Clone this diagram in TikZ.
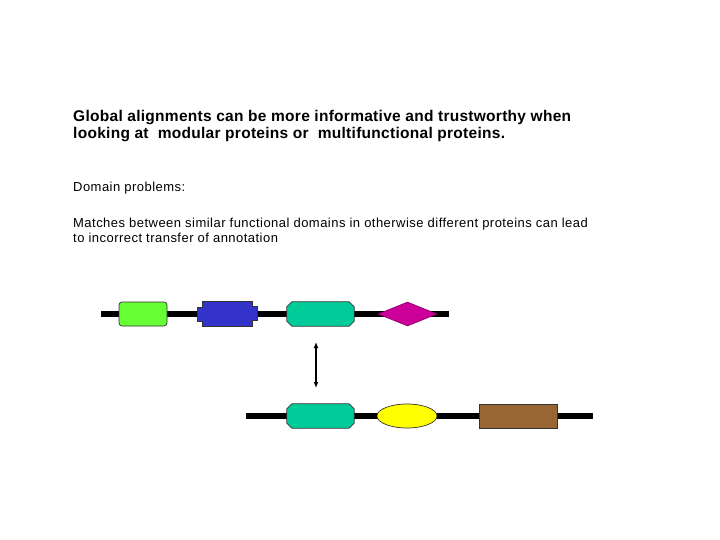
\documentclass[tikz,border=0pt]{standalone}
\usepackage{fontspec}
\setmainfont{Liberation Sans}
\usepackage{xcolor}
\usetikzlibrary{positioning, arrows.meta, shapes.geometric}

\definecolor{domgreen}{HTML}{66FF33}
\definecolor{domblue}{HTML}{3333CC}
\definecolor{domteal}{HTML}{00CC99}
\definecolor{dommagenta}{HTML}{CC0099}
\definecolor{domyellow}{HTML}{FFFF00}
\definecolor{dombrown}{HTML}{996633}

% octagonal domain drawn round an (invisible) node
\newcommand{\octdomain}[2]{%
  \draw[domline, fill=#2]
    ([xshift=5pt]#1.north west) -- ([xshift=-5pt]#1.north east)
    -- ([yshift=-5pt]#1.north east) -- ([yshift=5pt]#1.south east)
    -- ([xshift=-5pt]#1.south east) -- ([xshift=5pt]#1.south west)
    -- ([yshift=5pt]#1.south west) -- ([yshift=-5pt]#1.north west) -- cycle;}

\begin{document}
\begin{tikzpicture}[
  x=1pt, y=-1pt,
  headtext/.style={anchor=base west, inner sep=0pt, font=\fontsize{15.5}{17}\selectfont\bfseries\addfontfeature{LetterSpace=1.8}},
  bodytext/.style={anchor=base west, inner sep=0pt, font=\fontsize{13}{16}\selectfont\addfontfeature{LetterSpace=3.6}},
  backbone/.style={line width=6.5pt, black},
  domline/.style={draw=black!80, line width=0.7pt},
  dombox/.style={domline, minimum height=24pt, inner sep=0pt},
  roundbox/.style={dombox, rectangle, rounded corners=3pt},
  slot/.style={rectangle, minimum height=24pt, inner sep=0pt},
  updown/.style={{Latex[length=6pt,width=5pt]}-{Latex[length=6pt,width=5pt]}, line width=1.6pt},
]
\useasboundingbox (0,0) rectangle (720,540);

% === Text ===
\node[headtext] (title1) at (73,122) {Global alignments can be more informative and trustworthy when};
\node[headtext] (title2) at (73,139) {looking at\ \ modular proteins or\ \ multifunctional proteins.};
\node[bodytext] (problem) at (73,192) {Domain problems:};
\node[bodytext] (match1) at (73,227) {Matches between similar functional domains in otherwise different proteins can lead};
\node[bodytext] (match2) at (73,243) {to incorrect transfer of annotation};

% === Top protein ===
\coordinate (topL) at (101,314);
\coordinate (topR) at (449,314);
\draw[backbone] (topL) -- (topR);

\node[roundbox, fill=domgreen, minimum width=48pt] (dgreen) at (143,314) {};
\node[slot, minimum width=49pt] (dblue) at (227.5,314) {};
\draw[domline, fill=domblue]
  (dblue.north west) -- (dblue.north east) -- ++(0,5) -- ++(5,0) -- ++(0,14)
  -- ++(-5,0) |- (dblue.south west) -- ++(0,-5) -- ++(-5,0) -- ++(0,-14) -- ++(5,0) -- cycle;
\node[slot, minimum width=67pt] (dtealA) at (320.5,314) {};
\octdomain{dtealA}{domteal}
\node[dombox, diamond, aspect=2.45, fill=dommagenta, draw=dommagenta!70!black,
      minimum width=59pt, minimum height=24pt] (dmag) at (407.5,314) {};

% === Bottom protein ===
\coordinate (botL) at (246,416);
\coordinate (botR) at (593,416);
\draw[backbone] (botL) -- (botR);

\node[slot, minimum width=67pt] (dtealB) at (320.5,416) {};
\octdomain{dtealB}{domteal}
\node[dombox, ellipse, fill=domyellow, minimum width=60pt] (dyellow) at (407,416) {};
\node[dombox, rectangle, fill=dombrown, minimum width=78pt] (dbrown) at (518,416) {};

% === Match arrow ===
\coordinate (arrTop) at (316,342);
\coordinate (arrBot) at (316,388);
\draw[updown] (arrTop) -- (arrBot);

\end{tikzpicture}
\end{document}
